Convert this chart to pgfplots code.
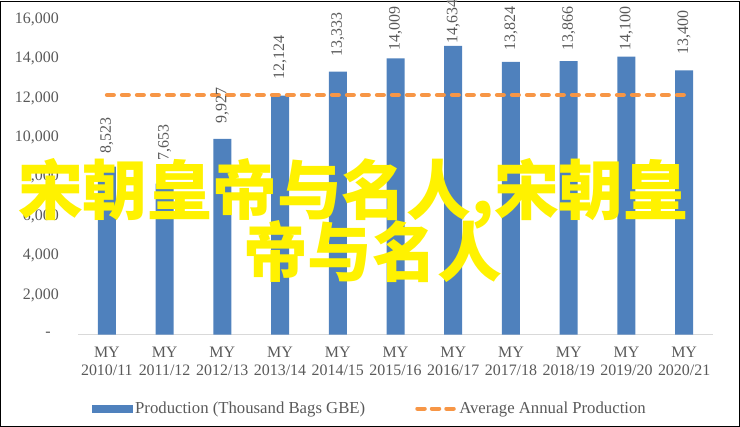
\documentclass[border=0pt]{standalone}
\usepackage{fontspec}
\setmainfont{Liberation Serif}
\newfontfamily\cjk{Noto Sans CJK SC}
\usepackage{pgfplots}
\usepackage{pgfplotstable}
\pgfplotsset{compat=1.18}

\definecolor{barblue}{HTML}{4F81BD}
\definecolor{avgorange}{HTML}{F79646}
\definecolor{labelgray}{HTML}{595959}
\definecolor{axisgray}{HTML}{D9D9D9}

% x = category, y = production, ly = where the rotated value label starts
\pgfplotstableread{
x  y     ly
0  8523  9164
1  7653  8810
2  9927  10683
3  12124 12911
4  13333 14075
5  14009 14379
6  14634 14733
7  13824 14379
8  13866 14379
9  14100 14379
10 13400 14177
}\prodtable

\pgfplotstableread{
x  y
0  12150
10 12150
}\avgtable

\begin{document}
\begin{tikzpicture}[x=1bp,y=1bp]
\draw[black,line width=1.2bp] (0.6,0.6) rectangle (739.4,425.4);
\begin{axis}[
  at={(78bp,92bp)}, anchor=south west,
  scale only axis, width=635bp, height=315.7bp,
  xmin=-0.5, xmax=10.5, ymin=0, ymax=16000,
  clip=false,
  scaled y ticks=false,
  axis x line*=bottom, axis y line*=left,
  x axis line style={draw=axisgray, line width=1.5bp, -},
  y axis line style={draw=none},
  major tick length=0pt,
  xtick={0,...,10},
  xticklabels={{MY\\2010/11},{MY\\2011/12},{MY\\2012/13},{MY\\2013/14},{MY\\2014/15},{MY\\2015/16},{MY\\2016/17},{MY\\2017/18},{MY\\2018/19},{MY\\2019/20},{MY\\2020/21}},
  xticklabel style={align=center, font=\rmfamily\fontsize{16}{18}\selectfont, text=labelgray, inner sep=0pt, yshift=-12bp},
  ytick={0,2000,...,16000},
  yticklabels={{-\hspace*{8bp}},{2,000},{4,000},{6,000},{8,000},{10,000},{12,000},{14,000},{16,000}},
  yticklabel style={font=\rmfamily\fontsize{16}{18}\selectfont, text=labelgray, inner sep=0pt, xshift=-19bp},
  legend columns=2,
  legend style={at={(0.022,-0.234)}, anchor=west, draw=none, fill=none,
    inner xsep=0pt, inner ysep=0pt,
    font=\rmfamily\fontsize{16.8}{18}\selectfont, text=labelgray,
    /tikz/every even column/.append style={column sep=48bp}},
]
\addplot[ybar, bar width=18bp, fill=barblue, draw=none,
  legend image code/.code={\fill[barblue] (0bp,-4bp) rectangle (41bp,4bp);},
  point meta=y,
  visualization depends on={\thisrow{ly} \as \labely},
  nodes near coords={\pgfmathprintnumber[1000 sep={,}, assume math mode=true]{\pgfplotspointmeta}},
  scatter/position=absolute,
  every node near coord/.append style={at={(axis cs:\pgfkeysvalueof{/data point/x},\labely)},
    anchor=west, rotate=90, inner sep=0pt,
    font=\rmfamily\fontsize{16}{16}\selectfont, text=labelgray},
] table[x=x,y=y] {\prodtable};
\addplot[avgorange, line width=4bp, dash pattern=on 7bp off 8bp, line cap=round,
  legend image code/.code={\draw[avgorange, line width=4bp, dash pattern=on 7.5bp off 7bp, line cap=round] (2bp,0) -- (40bp,0);},
] table[x=x,y=y] {\avgtable};
\legend{Production (Thousand Bags GBE), Average Annual Production}
\end{axis}
\node[anchor=base west, inner sep=0pt, text=yellow, font=\cjk\bfseries\fontsize{65}{65}\selectfont] at (18,212.5) {宋朝皇帝与名人,宋朝皇};
\node[anchor=base west, inner sep=0pt, text=yellow, font=\cjk\bfseries\fontsize{65}{65}\selectfont] at (243,150.5) {帝与名人};
\end{tikzpicture}
\end{document}
